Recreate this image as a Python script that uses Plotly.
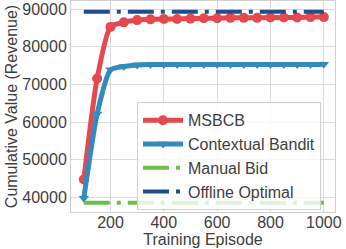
import plotly.graph_objects as go

episodes = [100, 150, 200, 250, 300, 350, 400, 450, 500, 550, 600, 650, 700, 750, 800, 850, 900, 950, 1000]
msbcb = [44800, 71600, 85300, 86500, 87100, 87300, 87400, 87400, 87500, 87600, 87600, 87700, 87700, 87700, 87800, 87800, 87800, 87900, 87900]
contextual = [39800, 62200, 73900, 74800, 75200, 75300, 75300, 75300, 75300, 75300, 75300, 75300, 75300, 75300, 75300, 75300, 75300, 75300, 75400]
manual_bid = [38600] * len(episodes)
offline_optimal = [89300] * len(episodes)
x_ticks = [200, 400, 600, 800, 1000]
y_ticks = [40000, 50000, 60000, 70000, 80000, 90000]

FONT = "Liberation Sans, Arial, sans-serif"
DASHDOT = "26px,7px,4px,7px"

fig = go.Figure()
fig.add_trace(go.Scatter(
    x=episodes, y=msbcb, name="MSBCB", mode="lines+markers",
    line=dict(color="#E5494F", width=5, shape="spline", smoothing=0.6),
    marker=dict(symbol="circle", size=10, color="#E5494F")))
fig.add_trace(go.Scatter(
    x=episodes, y=contextual, name="Contextual Bandit", mode="lines+markers",
    line=dict(color="#348ABD", width=5, shape="spline", smoothing=0.6),
    marker=dict(symbol="triangle-down", size=9, color="#348ABD")))
fig.add_trace(go.Scatter(
    x=episodes, y=manual_bid, name="Manual Bid", mode="lines",
    line=dict(color="#6CC04A", width=4, dash=DASHDOT)))
fig.add_trace(go.Scatter(
    x=episodes, y=offline_optimal, name="Offline Optimal", mode="lines",
    line=dict(color="#1F4E8F", width=4, dash=DASHDOT)))

axis_common = dict(
    showgrid=True, gridcolor="#DCDCDC", gridwidth=1,
    showline=True, linecolor="#D0D0D0", linewidth=1, mirror=True,
    zeroline=False, ticks="", automargin=False,
    tickfont=dict(size=16, color="#404040", family=FONT),
)

fig.update_layout(
    width=346, height=249,
    margin=dict(l=71, r=11, t=1, b=37),
    paper_bgcolor="white", plot_bgcolor="white",
    font=dict(family=FONT, size=16, color="#404040"),
    xaxis=dict(range=[52, 1042], tickvals=x_ticks, ticktext=[str(v) for v in x_ticks],
               ticklabelstandoff=-4,
               title=dict(text="Training Episode", font=dict(size=16), standoff=2),
               **axis_common),
    yaxis=dict(range=[36160, 92170], tickvals=y_ticks, ticktext=[str(v) for v in y_ticks],
               title=dict(text="Cumulative Value (Revenue)", font=dict(size=16), standoff=0),
               **axis_common),
    legend=dict(x=0.25, y=0.52, xanchor="left", yanchor="top",
                bgcolor="rgba(255,255,255,0.8)", bordercolor="#D0D0D0", borderwidth=1,
                font=dict(size=16, color="#404040"), tracegroupgap=0, itemwidth=40),
    showlegend=True,
)

fig.write_html("out.html", config={"displayModeBar": False},
               post_script="document.body.style.margin='0';")
